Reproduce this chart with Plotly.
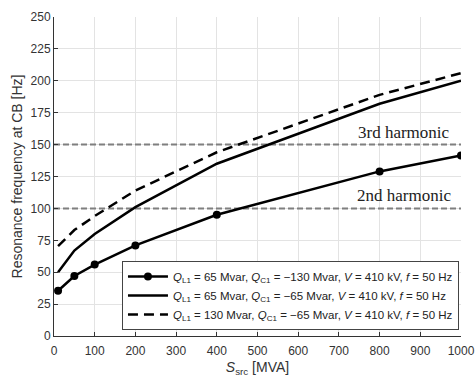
import plotly.graph_objects as go

s_src = [10, 50, 100, 200, 400, 800, 1000]
f_case1 = [35.5, 47, 56, 71, 95, 129, 141.5]
f_case2 = [50, 67, 80, 101, 135, 182, 200]
f_case3 = [70.5, 83, 94, 114, 144, 189, 206]
harmonics = [100, 150]
harmonic_labels = ["2nd harmonic", "3rd harmonic"]

names = [
    "<i>Q</i><sub>L1</sub> = 65 Mvar, <i>Q</i><sub>C1</sub> = \u2212130 Mvar, <i>V</i> = 410 kV, <i>f</i> = 50 Hz",
    "<i>Q</i><sub>L1</sub> = 65 Mvar, <i>Q</i><sub>C1</sub> = \u221265 Mvar, <i>V</i> = 410 kV, <i>f</i> = 50 Hz",
    "<i>Q</i><sub>L1</sub> = 130 Mvar, <i>Q</i><sub>C1</sub> = \u221265 Mvar, <i>V</i> = 410 kV, <i>f</i> = 50 Hz",
]

fig = go.Figure()
for h in harmonics:
    fig.add_trace(go.Scatter(x=[0, 1000], y=[h, h], mode="lines",
                             line=dict(color="#7f7f7f", width=2, dash="6px,3px"),
                             showlegend=False, hoverinfo="skip"))

fig.add_trace(go.Scatter(x=s_src, y=f_case1, mode="lines+markers", name=names[0],
                         line=dict(color="black", width=2.5),
                         marker=dict(color="black", size=8)))
fig.add_trace(go.Scatter(x=s_src, y=f_case2, mode="lines", name=names[1],
                         line=dict(color="black", width=2.5)))
fig.add_trace(go.Scatter(x=s_src, y=f_case3, mode="lines", name=names[2],
                         line=dict(color="black", width=2.5, dash="10px,6px")))

for h, lab in zip(harmonics, harmonic_labels):
    fig.add_annotation(x=860, y=h, text=lab, showarrow=False, yanchor="bottom",
                       yshift=1, xanchor="center",
                       font=dict(family="Liberation Serif", size=17, color="#222"))

axis_common = dict(showgrid=True, gridcolor="#e3e3e3", gridwidth=1,
                   showline=True, linecolor="#333", linewidth=1,
                   ticks="inside", ticklen=4, tickcolor="#333",
                   zeroline=False, mirror=False, automargin=False,
                   tickfont=dict(family="Liberation Sans", size=12, color="#333"))

fig.update_xaxes(range=[0, 1000], dtick=100, ticklabelstandoff=4, **axis_common,
                 title=dict(text="<i>S</i><sub>src</sub> [MVA]", standoff=8,
                            font=dict(family="Liberation Sans", size=14, color="#333")))
fig.update_yaxes(range=[0, 250], dtick=25, **axis_common,
                 title=dict(text="Resonance frequency at CB [Hz]", standoff=4,
                            font=dict(family="Liberation Sans", size=14, color="#333")))

fig.update_layout(
    width=476, height=377,
    margin=dict(l=54, r=15, t=17, b=41),
    plot_bgcolor="white", paper_bgcolor="white",
    legend=dict(x=0.995, y=0.235, xanchor="right", yanchor="top",
                bgcolor="white", bordercolor="#444", borderwidth=1,
                font=dict(family="Liberation Sans", size=11.5, color="#222"),
                tracegroupgap=0, itemwidth=40),
    showlegend=True,
)

fig.write_html("out.html")
